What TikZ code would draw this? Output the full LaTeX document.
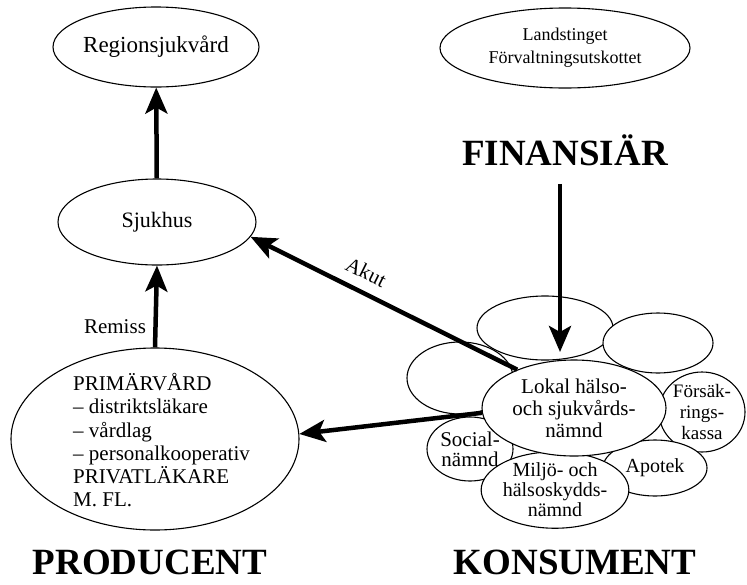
\documentclass[tikz,border=0pt]{standalone}
\usepackage{fontspec}
\setmainfont{Liberation Serif}
\usetikzlibrary{shapes.geometric,arrows.meta}
\begin{document}
\begin{tikzpicture}[x=1pt,y=-1pt,
  oval/.style={draw, ellipse, line width=1.1pt, fill=white, inner sep=0pt, align=center},
  conn/.style={line width=4.5pt, -{Stealth[length=26pt,width=22pt,inset=6pt]}},
  head/.style={font=\fontsize{37}{40}\selectfont\bfseries, inner sep=0pt},
  txt/.style={font=\fontsize{#1}{22}\selectfont},
  txt/.default=20
]
\useasboundingbox (0,0) rectangle (747,584);

% producer side
\node[oval, txt=23, minimum width=158pt, minimum height=80pt] (region) at (156,47) {Regionsjukvård};
\node[oval, txt=22, minimum width=198pt, minimum height=86pt] (sjukhus) at (157,222) {Sjukhus};
\node[oval, minimum width=288pt, minimum height=182pt] (prim) at (155,439) {};
\node[anchor=north west, align=left, inner sep=0pt, font=\fontsize{21}{23.3}\selectfont] (primtext) at (73,373)
  {PRIMÄRVÅRD\\– distriktsläkare\\– vårdlag\\– personalkooperativ\\PRIVATLÄKARE\\M. FL.};
\node[txt=21] (remiss) at (115,327) {Remiss};

% financier
\node[oval, font=\fontsize{18}{23}\selectfont, minimum width=250pt, minimum height=80pt] (landst) at (565,48) {Landstinget\\Förvaltningsutskottet};
\node[head] (fin) at (565,150) {FINANSIÄR};

% consumer cluster
\node[oval, minimum width=136pt, minimum height=64pt] (ctop) at (545,328) {};
\node[oval, minimum width=110pt, minimum height=60pt] (cright) at (658,343) {};
\node[oval, minimum width=106pt, minimum height=72pt] (cleft) at (460,378) {};
\node[oval, font=\fontsize{19}{21}\selectfont, minimum width=86pt, minimum height=80pt] (fors) at (702,412) {Försäk-\\rings-\\kassa};
\node[oval, font=\fontsize{21}{20}\selectfont, minimum width=86pt, minimum height=64pt] (social) at (470,449) {Social-\\nämnd};
\node[oval, txt=20, minimum width=104pt, minimum height=56pt] (apotek) at (655,468) {Apotek};
\node[oval, font=\fontsize{20}{20}\selectfont, minimum width=130pt, minimum height=74pt] (miljo) at (555,490) {Miljö- och\\hälsoskydds-\\nämnd};
\node[oval, font=\fontsize{21}{22}\selectfont, minimum width=184pt, minimum height=96pt] (lokal) at (574,408) {Lokal hälso-\\och sjukvårds-\\nämnd};

\node[head] (prod) at (150,562) {PRODUCENT};
\node[head] (kons) at (575,562) {KONSUMENT};

% connectors
\coordinate (fintip) at (560,352);
\draw[conn] (sjukhus) -- (region);
\draw[conn] (prim.north) -- (sjukhus.south);
\draw[conn, shorten <=18pt] (fin.south -| fintip) -- (fintip);
\draw[conn] (lokal.146) -- (sjukhus.-9)
  node[sloped, above=7pt, pos=0.6, txt=21] (akut) {Akut};
\draw[conn] (lokal.183) -- (prim.2);
\end{tikzpicture}
\end{document}
